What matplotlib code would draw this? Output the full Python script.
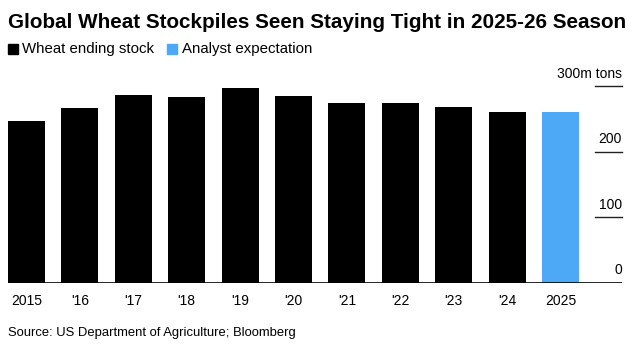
import matplotlib.pyplot as plt

# data
years = ['2015', "'16", "'17", "'18", "'19", "'20", "'21", "'22", "'23", "'24", '2025']
stocks = [248, 267, 287, 284, 297, 285, 275, 275, 269, 261, 261]
yticks = [0, 100, 200, 300]
ytick_labels = ['0', '100', '200', '300m tons']

black = '#000000'
blue = '#4DA8F6'
colors = [black] * 10 + [blue]

plt.rcParams['font.family'] = ['Liberation Sans', 'DejaVu Sans']

fig = plt.figure(figsize=(6.36, 3.62), dpi=100)
ax = fig.add_axes([8 / 636, (362 - 282.7) / 362, 614 / 636, 196.2 / 362])

x = list(range(len(years)))
ax.bar(x, stocks, width=0.69, color=colors, edgecolor='none')
ax.set_xlim(-0.345, 11.15)
ax.set_ylim(0, 300)

# short gridline stubs on the right + labels above them
trans = ax.get_yaxis_transform()
for v, lab in zip(yticks, ytick_labels):
    if v > 0:
        ax.plot([0.956, 1.0], [v, v], transform=trans, color='#222222', lw=1, clip_on=False)
    ax.annotate(lab, xy=(1.0, v), xycoords=trans, xytext=(0, 9), textcoords='offset points',
                ha='right', va='center', fontsize=10, color='#000000')
ax.axhline(0, color='black', lw=1.2)

for s in ax.spines.values():
    s.set_visible(False)
ax.set_yticks([])
ax.set_xticks(x)
ax.set_xticklabels(years, fontsize=10)
ax.tick_params(axis='x', length=0, pad=8)

fig.text(8 / 636, 1 - 22 / 362, 'Global Wheat Stockpiles Seen Staying Tight in 2025-26 Season',
         fontsize=14.9, fontweight='bold', va='center', ha='left')

# legend
fig.patches.append(plt.Rectangle((8 / 636, 1 - 54 / 362), 10 / 636, 10 / 362,
                                 transform=fig.transFigure, color=black))
fig.text(22 / 636, 1 - 49 / 362, 'Wheat ending stock', fontsize=10.8, va='center', ha='left')
fig.patches.append(plt.Rectangle((167 / 636, 1 - 54 / 362), 10 / 636, 10 / 362,
                                 transform=fig.transFigure, color=blue))
fig.text(182 / 636, 1 - 49 / 362, 'Analyst expectation', fontsize=10.8, va='center', ha='left')

fig.text(8 / 636, 1 - 333 / 362, 'Source: US Department of Agriculture; Bloomberg',
         fontsize=9.4, va='center', ha='left')

fig.savefig('out.png', dpi=100)
